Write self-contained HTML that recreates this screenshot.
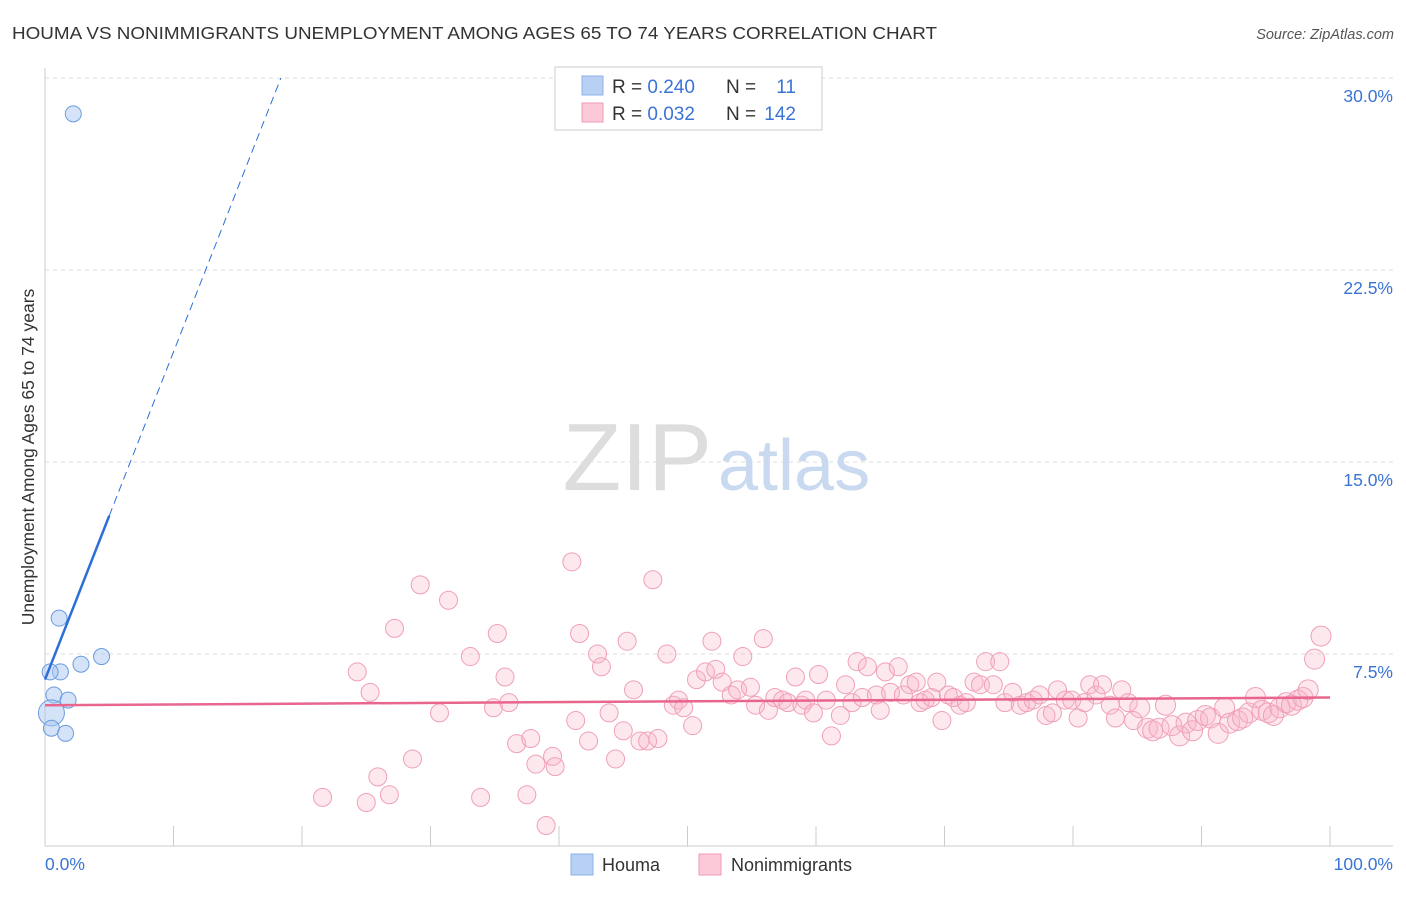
<!DOCTYPE html>
<html><head><meta charset="utf-8"><style>
body{margin:0;background:#fff;font-family:"Liberation Sans",sans-serif;}
svg text{font-family:"Liberation Sans",sans-serif;}
</style></head><body>
<svg width="1406" height="892" xmlns="http://www.w3.org/2000/svg">
<text x="12" y="39" font-size="17.5" fill="#333" textLength="925" lengthAdjust="spacingAndGlyphs">HOUMA VS NONIMMIGRANTS UNEMPLOYMENT AMONG AGES 65 TO 74 YEARS CORRELATION CHART</text>
<text x="1394" y="39" font-size="14.5" fill="#555" text-anchor="end" font-style="italic">Source: ZipAtlas.com</text>
<g id="grid"></g>
<text x="712" y="490" font-size="96" fill="#ddd" font-family="Liberation Serif" text-anchor="end">ZIP</text>
<text x="718" y="490" font-size="72" fill="#c9d9f0">atlas</text>
<g id="marks"></g>
<text transform="translate(34,457) rotate(-90)" font-size="17.5" fill="#333" text-anchor="middle">Unemployment Among Ages 65 to 74 years</text>
<text x="45" y="870" font-size="17.5" fill="#3a74d6">0.0%</text>
<text x="1393" y="870" font-size="17.5" fill="#3a74d6" text-anchor="end">100.0%</text>
<g>
<rect x="555" y="67" width="267" height="63" fill="#fff" stroke="#ccc"/>
<rect x="582" y="76" width="21" height="19" fill="#b8d0f4" stroke="#8fb2e8"/>
<rect x="582" y="103" width="21" height="19" fill="#fbc9d7" stroke="#f09ab5"/>
<text x="612" y="93" font-size="19" fill="#333">R = <tspan fill="#3a74d6">0.240</tspan></text>
<text x="726" y="93" font-size="19" fill="#333">N = </text><text x="796" y="93" font-size="19" fill="#3a74d6" text-anchor="end">11</text>
<text x="612" y="120" font-size="19" fill="#333">R = <tspan fill="#3a74d6">0.032</tspan></text>
<text x="726" y="120" font-size="19" fill="#333">N = </text><text x="796" y="120" font-size="19" fill="#3a74d6" text-anchor="end">142</text>
</g>
<g>
<rect x="571" y="854" width="22" height="21" fill="#b8d0f4" stroke="#8fb2e8"/>
<text x="602" y="871" font-size="18" fill="#333">Houma</text>
<rect x="699" y="854" width="22" height="21" fill="#fbc9d7" stroke="#f09ab5"/>
<text x="731" y="871" font-size="18" fill="#333">Nonimmigrants</text>
</g>
</svg>
<script>
const yTicks=[7.5,15,22.5,30];
const yTickLabels=["7.5%","15.0%","22.5%","30.0%"];
const xTicks=[0,10,20,30,40,50,60,70,80,90,100];
const houmaX=[2.2,1.1,4.4,2.8,1.2,0.4,0.7,1.8,0.5,0.5,1.6];
const houmaY=[28.6,8.9,7.4,7.1,6.8,6.8,5.9,5.7,5.2,4.6,4.4];
const nonX=[21.6,24.3,25.0,25.3,25.9,26.8,27.2,28.6,29.2,30.7,31.4,33.1,33.9,34.9,35.2,35.8,36.1,36.7,37.5,37.8,38.2,39.0,39.5,39.7,41.0,41.3,41.6,42.3,43.0,43.3,43.9,44.4,45.0,45.3,45.8,46.3,46.9,47.3,47.7,48.4,48.9,49.3,49.7,50.4,50.7,51.4,51.9,52.2,52.7,53.4,53.9,54.3,54.9,55.3,55.9,56.3,56.8,57.4,57.8,58.4,58.9,59.2,59.8,60.2,60.8,61.2,61.9,62.3,62.8,63.2,63.6,64.0,64.7,65.0,65.4,65.8,66.4,66.8,67.3,67.8,68.1,68.5,69.0,69.4,69.8,70.3,70.7,71.2,71.7,72.3,72.8,73.2,73.8,74.3,74.7,75.3,75.9,76.4,76.9,77.4,77.9,78.4,78.8,79.4,79.9,80.4,80.9,81.3,81.8,82.3,82.9,83.3,83.8,84.3,84.7,85.2,85.8,86.2,86.7,87.2,87.7,88.3,88.8,89.3,89.7,90.3,90.7,91.3,91.8,92.2,92.8,93.2,93.7,94.2,94.7,95.2,95.6,96.1,96.6,97.0,97.5,97.9,98.3,98.8,99.3];
const nonY=[1.9,6.8,1.7,6.0,2.7,2.0,8.5,3.4,10.2,5.2,9.6,7.4,1.9,5.4,8.3,6.6,5.6,4.0,2.0,4.2,3.2,0.8,3.5,3.1,11.1,4.9,8.3,4.1,7.5,7.0,5.2,3.4,4.5,8.0,6.1,4.1,4.1,10.4,4.2,7.5,5.5,5.7,5.4,4.7,6.5,6.8,8.0,6.9,6.4,5.9,6.1,7.4,6.2,5.5,8.1,5.3,5.8,5.7,5.6,6.6,5.5,5.7,5.2,6.7,5.7,4.3,5.1,6.3,5.6,7.2,5.8,7.0,5.9,5.3,6.8,6.0,7.0,5.9,6.3,6.4,5.6,5.7,5.8,6.4,4.9,5.9,5.8,5.5,5.6,6.4,6.3,7.2,6.3,7.2,5.6,6.0,5.5,5.6,5.7,5.9,5.1,5.2,6.1,5.7,5.7,5.0,5.6,6.3,5.9,6.3,5.5,5.0,6.1,5.6,4.9,5.4,4.6,4.5,4.6,5.5,4.7,4.3,4.8,4.5,4.9,5.1,5.0,4.4,5.4,4.8,4.9,5.0,5.2,5.8,5.3,5.2,5.1,5.4,5.6,5.5,5.7,5.8,6.1,7.3,8.2];
const houmaTrend=[6.5,1.28];
const nonTrend=[5.5,0.003];
const X=v=>45+v*12.85, Y=v=>846-v*25.6;
const NS="http://www.w3.org/2000/svg";
function mk(t,a,p){const e=document.createElementNS(NS,t);for(const k in a)e.setAttribute(k,a[k]);p.appendChild(e);return e;}
const g=document.getElementById('grid'), m=document.getElementById('marks');
yTicks.forEach((t,i)=>{
 const l=mk('line',{x1:45,x2:1393,y1:Y(t),y2:Y(t),stroke:'#ddd','stroke-dasharray':'4,4'},g);
 
 
 const tx=mk('text',{x:1393,y:Y(t)+24,'font-size':17.5,fill:'#3a74d6','text-anchor':'end'},g);
 tx.textContent=yTickLabels[i];
 
 
});
const ax=mk('line',{x1:45,x2:1393,y1:846,y2:846,stroke:'#ccc'},g);


const ay=mk('line',{x1:45,x2:45,y1:68,y2:846,stroke:'#ccc'},g);


xTicks.forEach(t=>{const l=mk('line',{x1:X(t),x2:X(t),y1:826,y2:846,stroke:'#ccc'},g);
 
 });
nonX.forEach((x,i)=>{const c=mk('circle',{cx:X(x),cy:Y(nonY[i]),r:x>85?10:9,fill:'rgba(248,180,200,0.3)',stroke:'#f0a0b8','stroke-width':1},m);
 
 });
houmaX.forEach((x,i)=>{const c=mk('circle',{cx:X(x),cy:Y(houmaY[i]),r:i==8?13:8,fill:'rgba(170,200,240,0.5)',stroke:'#6b9be0','stroke-width':1},m);
 
 });
const pl=mk('line',{x1:X(0),y1:Y(nonTrend[0]),x2:X(100),y2:Y(nonTrend[0]+nonTrend[1]*100),stroke:'#e8668e','stroke-width':2.5},m);


const hx1=5;
const hs=mk('line',{x1:X(0),y1:Y(houmaTrend[0]),x2:X(hx1),y2:Y(houmaTrend[0]+houmaTrend[1]*hx1),stroke:'#2d6fd8','stroke-width':2.5},m);


const hx2=(30-houmaTrend[0])/houmaTrend[1];
const hd=mk('line',{x1:X(hx1),y1:Y(houmaTrend[0]+houmaTrend[1]*hx1),x2:X(hx2),y2:Y(30),stroke:'#2d6fd8','stroke-width':1,'stroke-dasharray':'8,5'},m);


</script>
</body></html>
